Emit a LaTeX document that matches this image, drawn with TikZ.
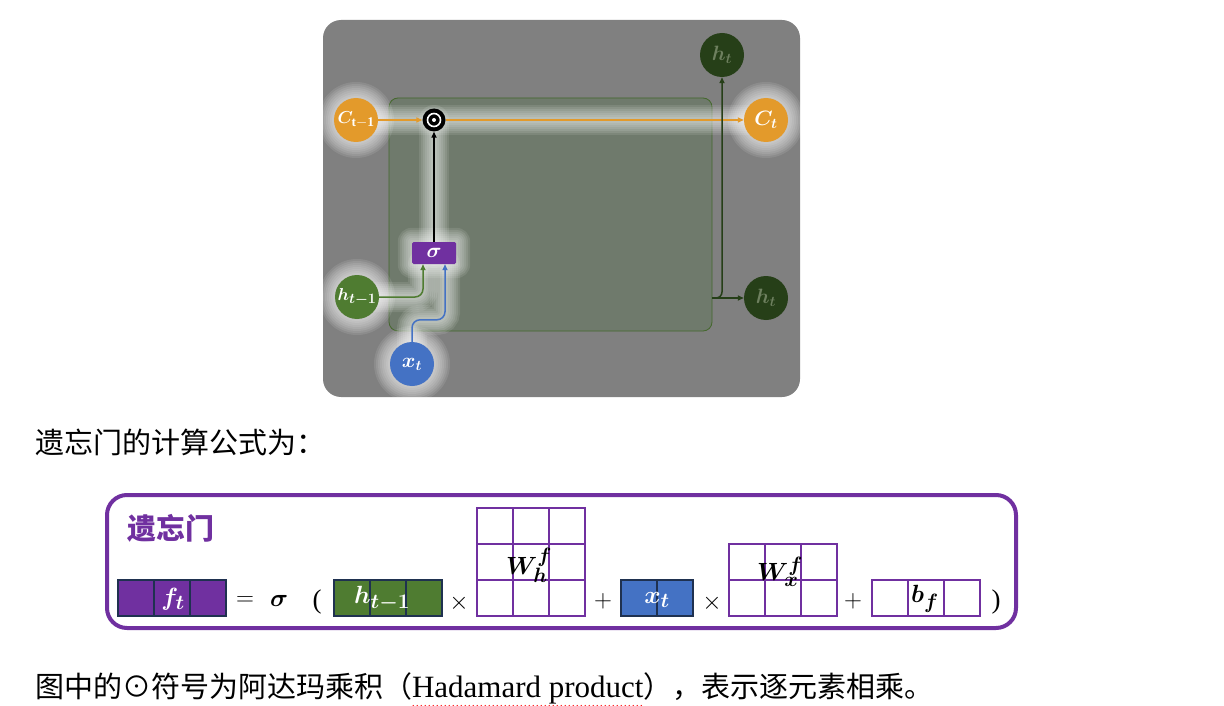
\documentclass[tikz,border=0pt]{standalone}
\usepackage{fontspec}
\usepackage{bm}
\setmainfont{Liberation Serif}
\newfontfamily\cjk{Noto Sans CJK SC}
\usetikzlibrary{arrows.meta,decorations.pathmorphing,calc}
\definecolor{panelgray}{HTML}{808080}
\definecolor{innerfill}{HTML}{6F7A6C}
\definecolor{innerborder}{HTML}{44682C}
\definecolor{corange}{HTML}{E39A2B}
\definecolor{cdkgreen}{HTML}{263F18}
\definecolor{chtext}{HTML}{6E805F}
\definecolor{cgreen}{HTML}{4F7C31}
\definecolor{cblue}{HTML}{4472C4}
\definecolor{cpurple}{HTML}{7030A0}
\definecolor{cnavy}{HTML}{1F3150}
\pgfdeclarelayer{bg}
\pgfdeclarelayer{glow}
\pgfsetlayers{bg,glow,main}
\newcommand{\mycells}[6]{%
  \foreach \i in {1,...,#3}{\foreach \j in {1,...,#4}{%
    \draw[#6, line width=1.8pt, fill=#5] ({#1+(\i-1)*36},{#2+(\j-1)*36}) rectangle ++(36,36);}}}
\tikzset{
  circ/.style={circle, minimum size=44pt, inner sep=-12pt, text=white, font=\fontsize{22}{22}\selectfont},
  small/.style={font=\fontsize{19}{19}\selectfont},
  arr/.style={-{Triangle[length=6pt,width=5pt]}, line width=1.5pt},
  fml/.style={font=\fontsize{30}{30}\selectfont, inner sep=0},
  op/.style={font=\fontsize{27}{27}\selectfont, inner sep=0},
  body/.style={font=\cjk\fontsize{29}{29}\selectfont, inner sep=0, outer sep=0},
  glowline/.style={white, opacity=0.1, line cap=round},
}
\begin{document}
\begin{tikzpicture}[x=1pt,y=-1pt]
\useasboundingbox (0,0) rectangle (1224,706);
\begin{pgfonlayer}{bg}
\fill[panelgray, rounded corners=18pt] (323,20) rectangle (800,397);
\node[draw=innerborder, line width=0.8pt, fill=innerfill, rounded corners=9pt,
  minimum width=323pt, minimum height=233pt, inner sep=0] (cell) at (550.5,214.5) {};
\end{pgfonlayer}

% nodes
\node[circ, small, fill=corange] (cprev) at (356,120) {$\bm{C}_{\mathbf{t-1}}$};
\node[circ, fill=corange] (cnext) at (766,120) {$\bm{C_t}$};
\node[circ, fill=cdkgreen, text=chtext] (htop) at (722,55) {$\bm{h_t}$};
\node[circ, fill=cdkgreen, text=chtext] (hout) at (766,298) {$\bm{h_t}$};
\node[circ, small, fill=cgreen] (hprev) at (357,297) {$\bm{h_{t-1}}$};
\node[circ, fill=cblue] (xt) at (412,364) {$\bm{x_t}$};
\node[fill=cpurple, minimum width=44pt, minimum height=22pt, inner sep=0, rounded corners=1.5pt,
  text=white, font=\fontsize{20}{20}\selectfont] (sig) at (434,253) {$\bm{\sigma}$};
\node[circle, fill=black, minimum size=23pt, inner sep=0] (had) at (434,120) {};
\draw[white, line width=1.6pt] (had.center) circle (6.5pt);
\fill[white] (had.center) circle (2pt);

% glow
\begin{pgfonlayer}{glow}
\foreach \w in {30,26,22,18,14,10,6}{
  \draw[glowline, line width=\w pt] (cprev.center) -- (cnext.center);
  \draw[glowline, line width=\w pt] (had.center) -- (sig.center);
  \draw[glowline, line width=\w pt, rounded corners=8pt]
    (hprev.center) -| ([xshift=-11pt]sig.south);
  \draw[glowline, line width=\w pt, rounded corners=8pt]
    (xt.center) -- ++(0,-44) -| ([xshift=11pt]sig.south);
}
\foreach \n in {cprev,cnext,hprev,xt}{
  \foreach \r in {16,14,12,10,8,6,4,2}{
    \fill[white, opacity=0.1] (\n.center) circle[radius=22pt+\r pt];
  }
}
\foreach \r in {14,12,10,8,6,4,2}{
  \fill[white, opacity=0.1, rounded corners=\r pt] ($(sig.south west)+(-\r,\r)$) rectangle ($(sig.north east)+(\r,-\r)$);
}
\end{pgfonlayer}

% connectors
\draw[arr, corange] (cprev) -- (had);
\draw[arr, corange] (had) -- (cnext);
\draw[arr, black] (sig) -- (had);
\draw[arr, cgreen, rounded corners=8pt] (hprev.east) -| ([xshift=-11pt]sig.south);
\draw[arr, cblue, rounded corners=8pt] (xt.north) -- ++(0,-22) -| ([xshift=11pt]sig.south);
\coordinate (split) at (cell.east |- hout);
\draw[arr, cdkgreen] (split) -- (hout);
\draw[arr, cdkgreen, rounded corners=6pt] (split) -| (htop.south);

% body text
\node[body, anchor=west] (line1) at (35,442) {遗忘门的计算公式为：};

% formula box
\draw[cpurple, line width=4pt, rounded corners=20pt] (107,495) rectangle (1016,628);
\node[anchor=west, inner sep=0, text=cpurple, font=\cjk\bfseries\fontsize{29}{29}\selectfont] (title) at (127,528) {遗忘门};

\mycells{118}{580}{3}{1}{cpurple}{cnavy}
\mycells{334}{580}{3}{1}{cgreen}{cnavy}
\mycells{477}{508}{3}{3}{white}{cpurple}
\mycells{621}{580}{2}{1}{cblue}{cnavy}
\mycells{729}{544}{3}{2}{white}{cpurple}
\mycells{872}{580}{3}{1}{white}{cpurple}

\node[fml, text=white] (ft) at (173,599) {$\bm{f_t}$};
\node[op] (eq) at (245,601) {$=$};
\node[op] (sg) at (279,601) {$\bm{\sigma}$};
\node[op] (lp) at (317,602) {(};
\node[fml, text=white] (hl) at (382,599) {$\bm{h_{t-1}}$};
\node[op] (t1) at (459,603) {$\times$};
\node[fml] (wh) at (529,565) {$\bm{W_h^f}$};
\node[op] (p1) at (603,601) {$+$};
\node[fml, text=white] (xl) at (657,600) {$\bm{x_t}$};
\node[op] (t2) at (712,603) {$\times$};
\node[fml] (wx) at (780,572) {$\bm{W_x^f}$};
\node[op] (p2) at (853,601) {$+$};
\node[fml] (bf) at (925,599) {$\bm{b_f}$};
\node[op] (rp) at (996,602) {)};

% bottom text
\node[body, anchor=west] (l2a) at (35,686) {图中的⊙符号为阿达玛乘积（};
\node[anchor=base west, inner sep=0, outer sep=0, font=\fontsize{31}{31}\selectfont] (l2b) at (l2a.base east) {Hadamard product};
\node[body, anchor=base west] (l2c) at (l2b.base east) {），表示逐元素相乘。};
\draw[red, line width=0.8pt, decorate, decoration={snake, amplitude=1.5pt, segment length=4pt}]
  ([yshift=-10pt]l2b.base west) -- ([yshift=-10pt]l2b.base east);
\end{tikzpicture}
\end{document}
